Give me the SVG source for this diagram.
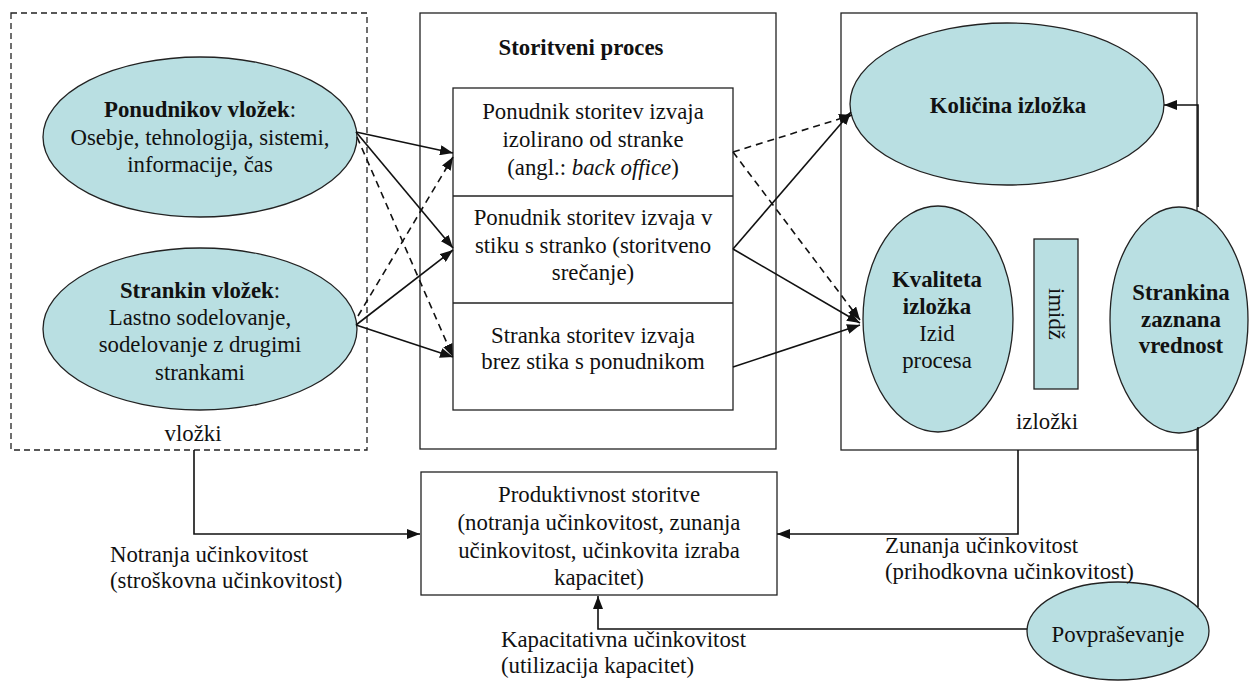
<svg xmlns="http://www.w3.org/2000/svg" width="1250" height="681" viewBox="0 0 1250 681">
  <style>
    text { font-family: "Liberation Serif", "DejaVu Serif", serif; font-size: 22.8px; fill: #111; }
    .c { text-anchor: middle; }
    .b { font-weight: bold; }
    .box { fill: #fff; stroke: #222; stroke-width: 1.3; }
    .ell { fill: #B9DFE2; stroke: #222; stroke-width: 1.3; }
    .ln { fill: none; stroke: #111; stroke-width: 1.6; }
    .dash { stroke-dasharray: 7 5; }
  </style>
  <defs>
    <marker id="arr" markerUnits="userSpaceOnUse" markerWidth="14" markerHeight="10" refX="13" refY="5" orient="auto">
      <path d="M0,0 L13,5 L0,10 z" fill="#111"/>
    </marker>
  </defs>

  <rect width="1250" height="681" fill="#fff"/>

  <!-- inputs container -->
  <g id="vlozki">
    <rect x="11" y="13" width="356" height="437" fill="none" stroke="#222" stroke-width="1.3" stroke-dasharray="6 4"/>
    <text class="c" x="193" y="441">vložki</text>
  </g>
  <g id="ponudnikov-vlozek">
    <ellipse class="ell" cx="200" cy="137" rx="157" ry="80"/>
    <text class="c" x="200" y="117"><tspan class="b">Ponudnikov vložek</tspan>:</text>
    <text class="c" x="200" y="145">Osebje, tehnologija, sistemi,</text>
    <text class="c" x="200" y="172">informacije, čas</text>
  </g>
  <g id="strankin-vlozek">
    <ellipse class="ell" cx="200" cy="329" rx="157" ry="81"/>
    <text class="c" x="200" y="298"><tspan class="b">Strankin vložek</tspan>:</text>
    <text class="c" x="200" y="325">Lastno sodelovanje,</text>
    <text class="c" x="200" y="352">sodelovanje z drugimi</text>
    <text class="c" x="200" y="380">strankami</text>
  </g>

  <!-- service process -->
  <g id="storitveni-proces">
    <rect class="box" x="420" y="13" width="356" height="436"/>
    <text class="c b" x="581" y="55">Storitveni proces</text>
    <rect class="box" x="453" y="88" width="280" height="322"/>
    <line x1="453" y1="196" x2="733" y2="196" stroke="#222" stroke-width="1.3"/>
    <line x1="453" y1="303" x2="733" y2="303" stroke="#222" stroke-width="1.3"/>
  </g>
  <g id="back-office">
    <text class="c" x="593" y="119">Ponudnik storitev izvaja</text>
    <text class="c" x="593" y="147">izolirano od stranke</text>
    <text class="c" x="593" y="175">(angl.: <tspan font-style="italic">back office</tspan>)</text>
  </g>
  <g id="storitveno-srecanje">
    <text class="c" x="593" y="225">Ponudnik storitev izvaja v</text>
    <text class="c" x="593" y="253">stiku s stranko (storitveno</text>
    <text class="c" x="593" y="280">srečanje)</text>
  </g>
  <g id="samopostrezba">
    <text class="c" x="593" y="343">Stranka storitev izvaja</text>
    <text class="c" x="593" y="369">brez stika s ponudnikom</text>
  </g>

  <!-- outputs container -->
  <g id="izlozki">
    <rect class="box" x="841" y="13" width="356" height="437"/>
    <text class="c" x="1047" y="429">izložki</text>
  </g>
  <g id="kolicina-izlozka">
    <ellipse class="ell" cx="1007" cy="104" rx="157" ry="81"/>
    <text class="c b" x="1008" y="113">Količina izložka</text>
  </g>
  <g id="kakovost-izlozka">
    <ellipse class="ell" cx="938" cy="319" rx="75" ry="113"/>
    <text class="c b" x="937" y="287">Kvaliteta</text>
    <text class="c b" x="937" y="314">izložka</text>
    <text class="c" x="937" y="341">Izid</text>
    <text class="c" x="937" y="368">procesa</text>
  </g>
  <g id="imidz">
    <rect x="1034" y="239" width="44" height="150" fill="#B9DFE2" stroke="#222" stroke-width="1.3"/>
    <text class="c" transform="translate(1049 314) rotate(90)" x="0" y="0">imidž</text>
  </g>
  <g id="zaznana-vrednost">
    <ellipse class="ell" cx="1179" cy="320" rx="69" ry="113"/>
    <text class="c b" x="1181" y="300">Strankina</text>
    <text class="c b" x="1181" y="327">zaznana</text>
    <text class="c b" x="1181" y="353">vrednost</text>
  </g>

  <!-- productivity -->
  <g id="produktivnost">
    <rect class="box" x="421" y="472" width="356" height="123"/>
    <text class="c" x="599" y="502">Produktivnost storitve</text>
    <text class="c" x="599" y="530">(notranja učinkovitost, zunanja</text>
    <text class="c" x="599" y="558">učinkovitost, učinkovita izraba</text>
    <text class="c" x="599" y="585">kapacitet)</text>
  </g>
  <g id="povprasevanje">
    <ellipse class="ell" cx="1118" cy="631" rx="91" ry="49"/>
    <text class="c" x="1118" y="642">Povpraševanje</text>
  </g>

  <!-- connector labels -->
  <g id="labels">
    <text x="110" y="562">Notranja učinkovitost</text>
    <text x="110" y="588">(stroškovna učinkovitost)</text>
    <text x="885" y="553">Zunanja učinkovitost</text>
    <text x="885" y="579">(prihodkovna učinkovitost)</text>
    <text x="501" y="647">Kapacitativna učinkovitost</text>
    <text x="501" y="673">(utilizacija kapacitet)</text>
  </g>

  <!-- connectors -->
  <g id="connectors">
    <!-- inputs to process -->
    <line class="ln" x1="356" y1="132" x2="453" y2="153" marker-end="url(#arr)"/>
    <line class="ln" x1="356" y1="132" x2="453" y2="248" marker-end="url(#arr)"/>
    <line class="ln dash" x1="357" y1="137" x2="453" y2="357" marker-end="url(#arr)"/>
    <line class="ln dash" x1="358" y1="316" x2="453" y2="157" marker-end="url(#arr)"/>
    <line class="ln" x1="356" y1="325" x2="453" y2="250" marker-end="url(#arr)"/>
    <line class="ln" x1="356" y1="325" x2="453" y2="357" marker-end="url(#arr)"/>
    <!-- process to outputs -->
    <line class="ln dash" x1="733" y1="152" x2="852" y2="115" marker-end="url(#arr)"/>
    <line class="ln dash" x1="733" y1="152" x2="860" y2="320" marker-end="url(#arr)"/>
    <line class="ln" x1="733" y1="249" x2="851" y2="112" marker-end="url(#arr)"/>
    <line class="ln" x1="733" y1="249" x2="860" y2="323" marker-end="url(#arr)"/>
    <line class="ln" x1="733" y1="367" x2="860" y2="325" marker-end="url(#arr)"/>
    <!-- perceived value to quantity -->
    <polyline class="ln" points="1198,207 1198,105 1164,105" marker-end="url(#arr)"/>
    <!-- demand -->
    <line class="ln" x1="1198" y1="607" x2="1198" y2="427"/>
    <polyline class="ln" points="1027,629 598,629 598,596" marker-end="url(#arr)"/>
    <!-- efficiency links -->
    <polyline class="ln" points="194,450 194,534 420,534" marker-end="url(#arr)"/>
    <polyline class="ln" points="1018,450 1018,534 777,534" marker-end="url(#arr)"/>
  </g>
</svg>
